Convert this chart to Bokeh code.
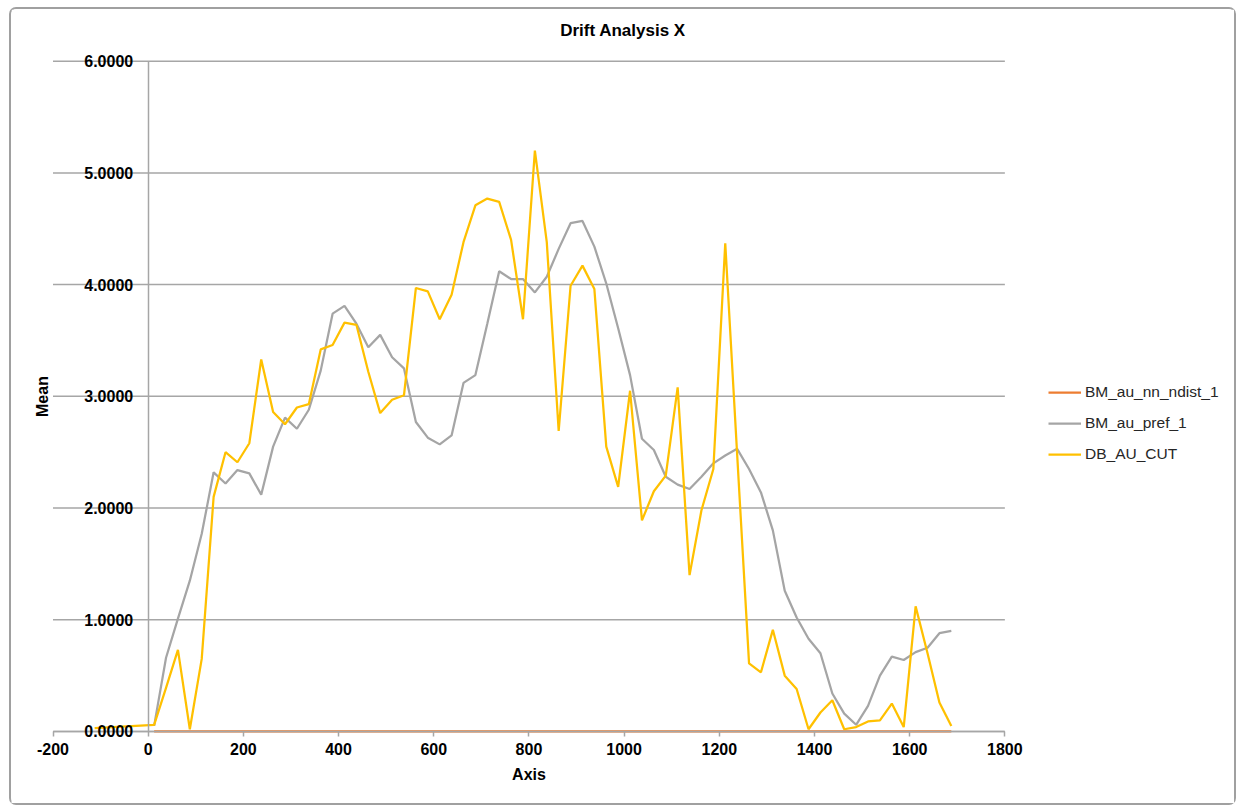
from bokeh.plotting import figure
from bokeh.models import (Legend, LegendItem, NumeralTickFormatter,
                          FixedTicker, Range1d)
from bokeh.embed import file_html
from bokeh.resources import INLINE

# ---------------- data ----------------
axis_x = [12.5, 37.5, 62.5, 87.5, 112.5, 137.5, 162.5, 187.5, 212.5, 237.5,
          262.5, 287.5, 312.5, 337.5, 362.5, 387.5, 412.5, 437.5, 462.5, 487.5,
          512.5, 537.5, 562.5, 587.5, 612.5, 637.5, 662.5, 687.5, 712.5, 737.5,
          762.5, 787.5, 812.5, 837.5, 862.5, 887.5, 912.5, 937.5, 962.5, 987.5,
          1012.5, 1037.5, 1062.5, 1087.5, 1112.5, 1137.5, 1162.5, 1187.5, 1212.5, 1237.5,
          1262.5, 1287.5, 1312.5, 1337.5, 1362.5, 1387.5, 1412.5, 1437.5, 1462.5, 1487.5,
          1512.5, 1537.5, 1562.5, 1587.5, 1612.5, 1637.5, 1662.5, 1687.5]

bm_au_nn_ndist_1 = [0.0] * 68

bm_au_pref_1 = [0.05, 0.66, 1.01, 1.35, 1.77, 2.32, 2.22, 2.34, 2.31, 2.12,
                2.55, 2.81, 2.71, 2.88, 3.23, 3.74, 3.81, 3.65, 3.44, 3.55,
                3.35, 3.25, 2.77, 2.63, 2.57, 2.65, 3.12, 3.19, 3.65, 4.12,
                4.05, 4.05, 3.93, 4.07, 4.32, 4.55, 4.57, 4.34, 4.01, 3.61,
                3.19, 2.62, 2.52, 2.28, 2.21, 2.17, 2.28, 2.40, 2.47, 2.53,
                2.35, 2.14, 1.80, 1.26, 1.02, 0.83, 0.70, 0.34, 0.16, 0.06,
                0.23, 0.50, 0.67, 0.64, 0.71, 0.75, 0.88, 0.90]

db_x = [-112.5] + axis_x
db_au_cut = [0.03,
             0.06, 0.39, 0.73, 0.02, 0.65, 2.10, 2.50, 2.41, 2.58, 3.33,
             2.86, 2.75, 2.90, 2.93, 3.42, 3.46, 3.66, 3.64, 3.22, 2.85,
             2.97, 3.01, 3.97, 3.94, 3.69, 3.91, 4.38, 4.71, 4.77, 4.74,
             4.40, 3.69, 5.20, 4.38, 2.69, 3.99, 4.17, 3.96, 2.55, 2.19,
             3.05, 1.89, 2.15, 2.29, 3.08, 1.40, 1.98, 2.35, 4.37, 2.48,
             0.61, 0.53, 0.91, 0.50, 0.38, 0.02, 0.17, 0.28, 0.02, 0.04,
             0.09, 0.10, 0.25, 0.04, 1.12, 0.70, 0.26, 0.05]

x_ticks = [-200, 0, 200, 400, 600, 800, 1000, 1200, 1400, 1600, 1800]
y_ticks = [0, 1, 2, 3, 4, 5, 6]
series_names = ["BM_au_nn_ndist_1", "BM_au_pref_1", "DB_AU_CUT"]
series_colors = ["#ED7D31", "#A5A5A5", "#FFC000"]

# ---------------- style ----------------
FONT = "Liberation Sans"
GRID = "#a6a6a6"

# The frame fills the chart area; the axes cross at (0, 0) and are bounded
# to the plotted extent, as in the Excel original.
p = figure(width=1223, height=794,
           x_range=Range1d(-287.2, 2282.5), y_range=Range1d(-0.6445, 6.1045),
           output_backend="svg", toolbar_location=None,
           min_border_left=0, min_border_right=0,
           min_border_top=40, min_border_bottom=0)
p.outline_line_color = None
p.background_fill_color = "white"
p.border_fill_color = "white"
p.styles = {"outline": "2px solid #a0a0a0", "border-radius": "5px",
            "margin-left": "11px", "margin-top": "9px"}

p.title.text = "Drift Analysis X"
p.title.align = "center"
p.title.standoff = 19
p.title.text_font = FONT
p.title.text_font_size = "17px"
p.title.text_font_style = "bold"
p.title.text_color = "black"

# x axis at y = 0
xa = p.xaxis[0]
xa.fixed_location = 0
xa.bounds = (x_ticks[0], x_ticks[-1])
xa.ticker = FixedTicker(ticks=x_ticks)
xa.formatter = NumeralTickFormatter(format="0")
xa.axis_label = "Axis"
xa.axis_label_text_font = FONT
xa.axis_label_text_font_size = "16px"
xa.axis_label_text_font_style = "bold"
xa.axis_label_text_color = "black"
xa.axis_label_standoff = 7
xa.major_label_text_font = FONT
xa.major_label_text_font_size = "16px"
xa.major_label_text_font_style = "bold"
xa.major_label_text_color = "black"
xa.major_label_standoff = 7
xa.axis_line_color = GRID
xa.axis_line_width = 1.5
xa.major_tick_line_color = GRID
xa.major_tick_line_width = 1.5
xa.major_tick_out = 5
xa.major_tick_in = 0
xa.minor_tick_line_color = None

# y axis at x = 0
ya = p.yaxis[0]
ya.fixed_location = 0
ya.bounds = (y_ticks[0], y_ticks[-1])
ya.ticker = FixedTicker(ticks=y_ticks)
ya.formatter = NumeralTickFormatter(format="0.0000")
ya.axis_label = "Mean"
ya.axis_label_text_font = FONT
ya.axis_label_text_font_size = "16px"
ya.axis_label_text_font_style = "bold"
ya.axis_label_text_color = "black"
ya.axis_label_standoff = 31
ya.major_label_text_font = FONT
ya.major_label_text_font_size = "16px"
ya.major_label_text_font_style = "bold"
ya.major_label_text_color = "black"
ya.major_label_standoff = 15
ya.axis_line_color = GRID
ya.axis_line_width = 1.5
ya.major_tick_line_color = None
ya.minor_tick_line_color = None
ya.major_tick_out = 0
ya.major_tick_in = 0

# horizontal gridlines only across the plotted x extent
p.xgrid.visible = False
p.ygrid.visible = False
p.segment(x0=[x_ticks[0]] * len(y_ticks), x1=[x_ticks[-1]] * len(y_ticks),
          y0=y_ticks, y1=y_ticks, line_color=GRID, line_width=1.5)

r1 = p.line(axis_x, bm_au_nn_ndist_1, line_color=series_colors[0], line_width=2.25)
r2 = p.line(axis_x, bm_au_pref_1, line_color=series_colors[1], line_width=2.25)
r3 = p.line(db_x, db_au_cut, line_color=series_colors[2], line_width=2.25)

legend = Legend(items=[LegendItem(label=series_names[0], renderers=[r1]),
                       LegendItem(label=series_names[1], renderers=[r2]),
                       LegendItem(label=series_names[2], renderers=[r3])],
                location=(1037, 339), padding=0, margin=0,
                border_line_color=None, background_fill_alpha=0,
                glyph_width=33, glyph_height=20, label_height=20,
                spacing=11, label_standoff=4,
                label_text_font=FONT, label_text_font_size="15.5px",
                label_text_color="#262626")
p.add_layout(legend, "center")

open("out.html", "w").write(file_html(p, INLINE))
